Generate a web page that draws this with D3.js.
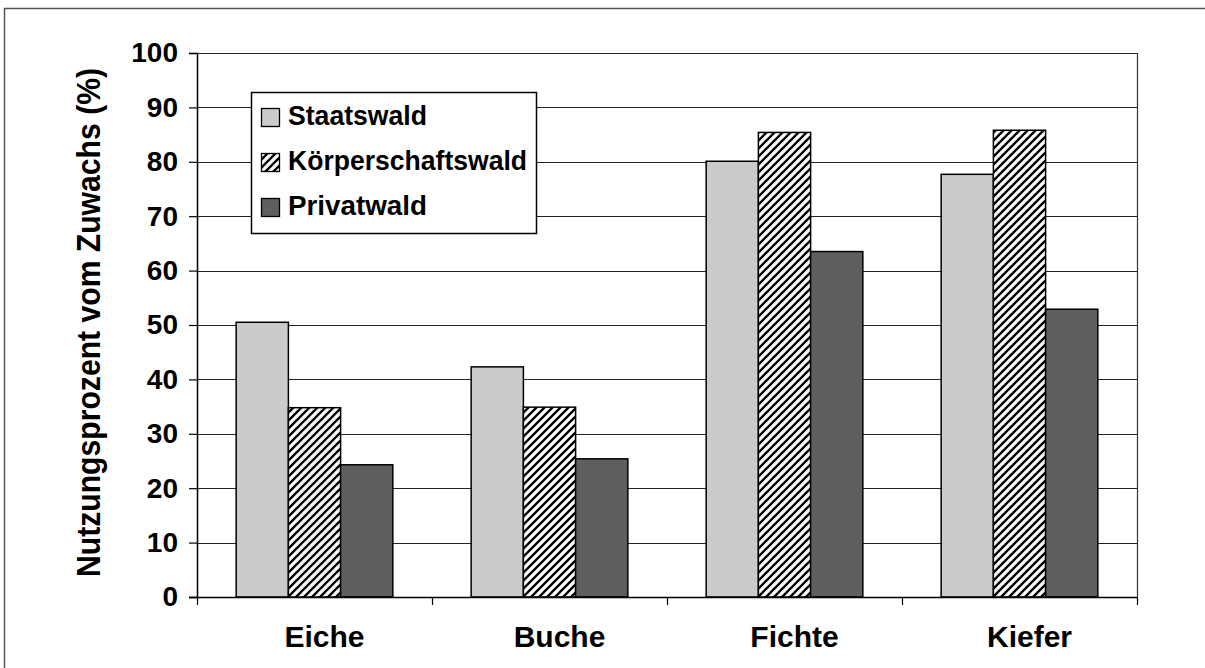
<!DOCTYPE html>
<html>
<head>
<meta charset="utf-8">
<script src="https://cdn.jsdelivr.net/npm/d3@7"></script>
<style>
  html, body { margin: 0; padding: 0; background: #ffffff; }
  svg { display: block; }
  text { font-family: "Liberation Sans", Arial, sans-serif; font-weight: bold; fill: #000; }
</style>
</head>
<body>
<svg id="chart" width="1205" height="668"></svg>
<script>
const categories = ["Eiche", "Buche", "Fichte", "Kiefer"];
const seriesNames = ["Staatswald", "Körperschaftswald", "Privatwald"];
const staatswald = [50.5, 42.3, 80.1, 77.7];
const koerperschaftswald = [34.8, 34.9, 85.4, 85.8];
const privatwald = [24.3, 25.4, 63.5, 52.9];
const yTicks = [0, 10, 20, 30, 40, 50, 60, 70, 80, 90, 100];
const yTitle = "Nutzungsprozent vom Zuwachs (%)";

const seriesValues = [staatswald, koerperschaftswald, privatwald];
const fills = ["#cbcbcb", "url(#hatch)", "#5f5f5f"];

const svg = d3.select("#chart");

// hatch pattern
const defs = svg.append("defs");
const pat = defs.append("pattern")
  .attr("id", "hatch").attr("patternUnits", "userSpaceOnUse")
  .attr("width", 8).attr("height", 8);
pat.append("rect").attr("width", 8).attr("height", 8).attr("fill", "#fff");
pat.append("path").attr("d", "M-2,2 L2,-2 M0,8 L8,0 M6,10 L10,6")
  .attr("stroke", "#000").attr("stroke-width", 2.3);

// outer frame
svg.append("rect").attr("x", 4.5).attr("y", 8.5).attr("width", 1210).attr("height", 670)
  .attr("fill", "none").attr("stroke", "#555").attr("stroke-width", 1.5);

const pLeft = 197, pRight = 1137, pTop = 53, pBottom = 597;

const x0 = d3.scaleBand().domain(categories).range([pLeft, pRight]).padding(0);
const x1 = d3.scaleBand().domain(seriesNames).range([0, x0.bandwidth()])
  .paddingInner(0).paddingOuter(0.75);
const y = d3.scaleLinear().domain([0, 100]).range([pBottom, pTop]);

// gridlines
svg.append("g").selectAll("line").data(yTicks.filter(d => d > 0)).join("line")
  .attr("x1", pLeft).attr("x2", pRight)
  .attr("y1", d => Math.round(y(d)) + 0.5).attr("y2", d => Math.round(y(d)) + 0.5)
  .attr("stroke", "#222").attr("stroke-width", 1.2);

// right border of plot area
svg.append("line").attr("x1", pRight + 0.5).attr("x2", pRight + 0.5)
  .attr("y1", pTop).attr("y2", pBottom).attr("stroke", "#333").attr("stroke-width", 1.2);

// bars
const groups = svg.append("g").selectAll("g").data(categories).join("g")
  .attr("transform", d => `translate(${x0(d)},0)`);
groups.selectAll("rect").data((c, ci) => seriesNames.map((s, si) => ({ s, si, v: seriesValues[si][ci] })))
  .join("rect")
  .attr("x", d => x1(d.s))
  .attr("width", x1.bandwidth())
  .attr("y", d => y(d.v))
  .attr("height", d => y(0) - y(d.v))
  .attr("fill", d => fills[d.si])
  .attr("stroke", "#000").attr("stroke-width", 1.5);

// y axis
const yAxis = d3.axisLeft(y).tickValues(yTicks).tickSize(8).tickPadding(11).tickFormat(d3.format("d"));
const gy = svg.append("g").attr("transform", `translate(${pLeft},0)`).call(yAxis);
gy.select(".domain").attr("stroke", "#000").attr("stroke-width", 1.5);
gy.selectAll(".tick line").attr("stroke", "#000").attr("stroke-width", 1.2);
gy.selectAll(".tick text").attr("font-size", 28).attr("font-family", "Liberation Sans, Arial, sans-serif")
  .attr("font-weight", "bold").attr("fill", "#000");

// x axis line and boundary ticks
svg.append("line").attr("x1", pLeft - 8).attr("x2", pRight).attr("y1", pBottom + 0.5).attr("y2", pBottom + 0.5)
  .attr("stroke", "#000").attr("stroke-width", 1.5);
const bounds = categories.map(c => x0(c)).concat([pRight]);
svg.append("g").selectAll("line").data(bounds).join("line")
  .attr("x1", d => d + 0.5).attr("x2", d => d + 0.5)
  .attr("y1", pBottom).attr("y2", pBottom + 8)
  .attr("stroke", "#000").attr("stroke-width", 1.2);

// category labels
svg.append("g").selectAll("text").data(categories).join("text")
  .attr("x", d => x0(d) + x0.bandwidth() / 2 + 10)
  .attr("y", 647)
  .attr("text-anchor", "middle")
  .attr("font-size", 30)
  .text(d => d);

// y title
svg.append("text")
  .attr("transform", "translate(100,322.5) rotate(-90)")
  .attr("text-anchor", "middle")
  .attr("font-size", 34)
  .attr("textLength", 509).attr("lengthAdjust", "spacingAndGlyphs")
  .text(yTitle);

// legend
const lg = svg.append("g");
lg.append("rect").attr("x", 251.5).attr("y", 92.5).attr("width", 285).attr("height", 141)
  .attr("fill", "#fff").attr("stroke", "#000").attr("stroke-width", 1.5);
const legW = [139, 239, 139];
const items = lg.selectAll("g.item").data(seriesNames).join("g").attr("class", "item")
  .attr("transform", (d, i) => `translate(0,${i * 45})`);
items.append("rect").attr("x", 261.5).attr("y", 108.5).attr("width", 18).attr("height", 18)
  .attr("fill", (d, i) => fills[i]).attr("stroke", "#000").attr("stroke-width", 1.3);
items.append("text").attr("x", 288).attr("y", 125)
  .attr("font-size", 27)
  .attr("textLength", (d, i) => legW[i]).attr("lengthAdjust", "spacingAndGlyphs")
  .text(d => d);
</script>
</body>
</html>
